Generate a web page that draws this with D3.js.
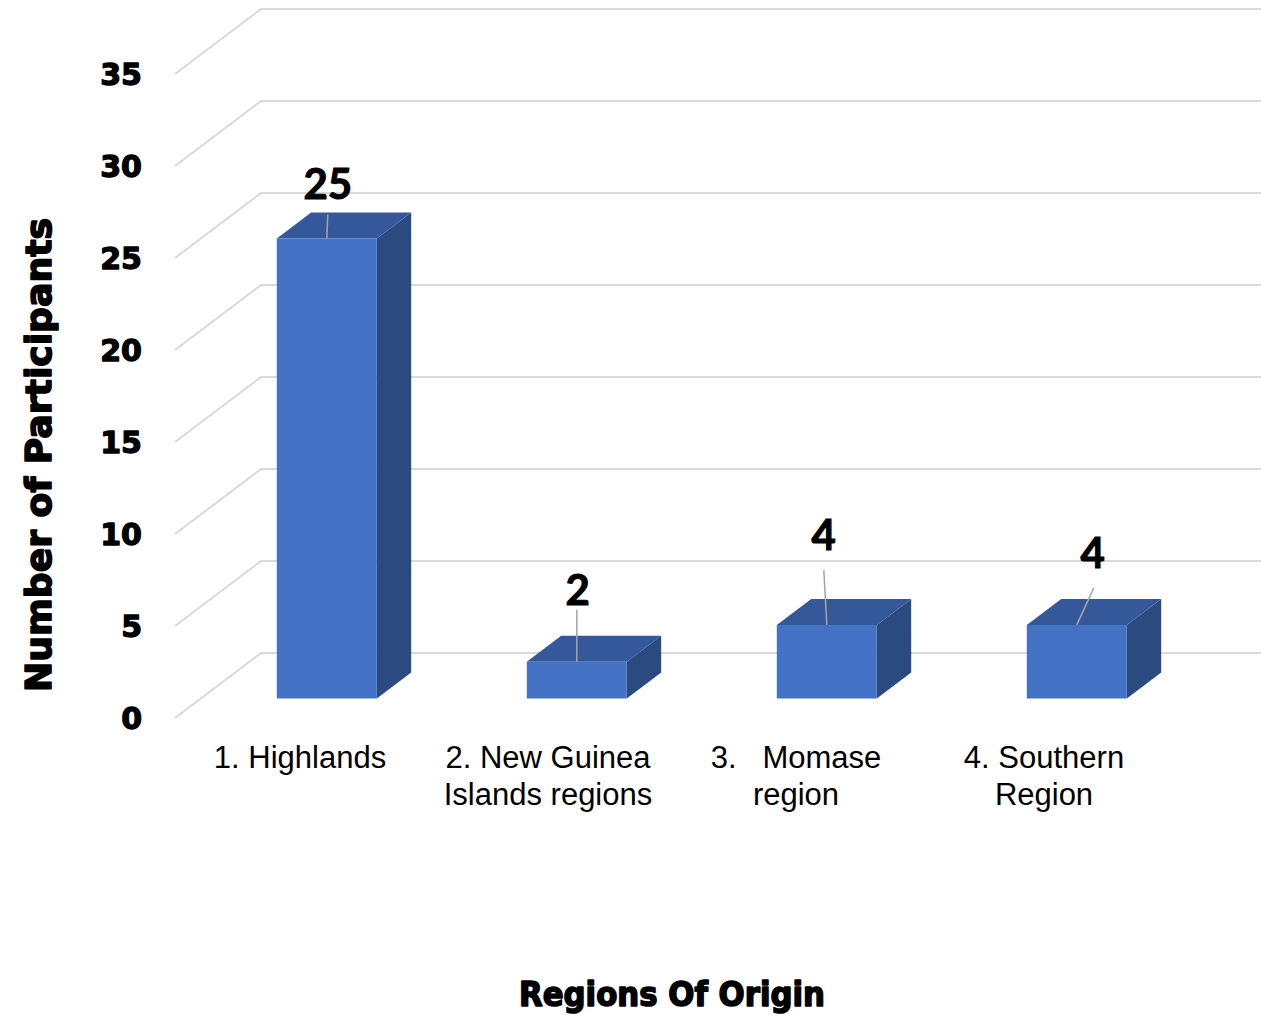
<!DOCTYPE html>
<html><head><meta charset="utf-8">
<script src="https://cdn.jsdelivr.net/npm/d3@7"></script>
<style>html,body{margin:0;padding:0;background:#fff;}svg{display:block;}</style>
</head><body>
<svg id="chart" width="1269" height="1015"></svg>
<script>
// ---- data ----
const categories = [["1. Highlands"], ["2. New Guinea", "Islands regions"], ["3.   Momase", "region"], ["4. Southern", "Region"]];
const values = [25, 2, 4, 4];
const yTicks = [0, 5, 10, 15, 20, 25, 30, 35];
const yTitle = "Number of Participants";
const xTitle = "Regions Of Origin";

// ---- layout (not data) ----
const labelLayout = [ // label offset from bar top-front-center, and leader start
  {dx: 1, dy: -40, lx: 1, ly: -24},
  {dx: 1, dy: -57, lx: 0, ly: -52},
  {dx: -3, dy: -75, lx: -3, ly: -55},
  {dx: 16, dy: -57, lx: 17, ly: -37}
];
const DX = 86, DY = -65;       // full depth offset
const z0 = 0.3, z1 = 0.7;      // bar depth range

const svg = d3.select("#chart");
const x = d3.scaleBand().domain(d3.range(categories.length)).range([176, 1176]).paddingInner(0.6).paddingOuter(0.3);
const xOuter = d3.scaleBand().domain(d3.range(categories.length)).range([175, 1175]);
const y = d3.scaleLinear().domain([0, 35]).range([718, 74]);
const P = (px, v, z) => [px + z * DX, y(v) + z * DY];

const grid = "#D9D9D9";
// left wall diagonals + back wall lines
const g = svg.append("g");
yTicks.forEach(t => {
  const a = P(175, t, 0), b = P(175, t, 1), c = P(1175, t, 1);
  g.append("path").attr("d", `M${a}L${b}L${c}`).attr("fill", "none").attr("stroke", grid).attr("stroke-width", 2);
});

const heavy = sel => sel.style("font-family", "'DejaVu Sans'").style("font-weight", "bold")
  .attr("fill", "#000").attr("stroke", "#000").attr("stroke-linejoin", "round");

// tick labels
svg.append("g").selectAll("text").data(yTicks).join("text")
  .attr("x", 142).attr("y", d => y(d)).attr("dy", "0.36em")
  .attr("text-anchor", "end")
  .call(heavy).attr("stroke-width", 1.3).style("font-size", "30px")
  .text(d => d);

// bars
const bars = svg.append("g");
values.forEach((v, i) => {
  const x0 = x(i), x1 = x(i) + x.bandwidth();
  const f = [P(x0, 0, z0), P(x1, 0, z0), P(x1, v, z0), P(x0, v, z0)];
  const top = [P(x0, v, z0), P(x1, v, z0), P(x1, v, z1), P(x0, v, z1)];
  const side = [P(x1, 0, z0), P(x1, 0, z1), P(x1, v, z1), P(x1, v, z0)];
  const poly = pts => "M" + pts.map(p => p.join(",")).join("L") + "Z";
  bars.append("path").attr("d", poly(side)).attr("fill", "#2B4A80");
  bars.append("path").attr("d", poly(top)).attr("fill", "#34589A");
  bars.append("path").attr("d", poly(f)).attr("fill", "#4472C4");
  // data labels
  const tc = P(x0 + x.bandwidth() / 2, v, z0);
  const L = labelLayout[i];
  bars.append("line").attr("x1", tc[0] + L.lx).attr("y1", tc[1] + L.ly).attr("x2", tc[0]).attr("y2", tc[1])
    .attr("stroke", "#A6A6A6").attr("stroke-width", 1.5);
  bars.append("text").attr("x", tc[0] + L.dx).attr("y", tc[1] + L.dy).attr("text-anchor", "middle")
    .style("font-family", "Lato").style("font-weight", "bold").style("font-size", "42px")
    .attr("fill", "#000").attr("stroke", "#000").attr("stroke-width", 1)
    .text(v);
});

// category labels
const cl = svg.append("g");
categories.forEach((lines, i) => {
  const cx = xOuter(i) + xOuter.bandwidth() / 2 - i * 2;
  const t = cl.append("text").attr("text-anchor", "middle")
    .style("font-family", "'Liberation Sans', Arial").style("font-size", "31px").style("white-space", "pre")
    .attr("fill", "#000");
  lines.forEach((ln, k) => t.append("tspan").attr("x", cx).attr("y", 768 + k * 37).text(ln));
});

// axis titles
svg.append("text").attr("transform", "translate(51,455) rotate(-90)").attr("text-anchor", "middle")
  .attr("textLength", 474).attr("lengthAdjust", "spacingAndGlyphs")
  .call(heavy).attr("stroke-width", 1.6).style("font-size", "35px")
  .text(yTitle);
svg.append("text").attr("x", 672).attr("y", 1006).attr("text-anchor", "middle")
  .attr("textLength", 306).attr("lengthAdjust", "spacingAndGlyphs")
  .call(heavy).attr("stroke-width", 1.6).style("font-size", "33px")
  .text(xTitle);
</script>
</body></html>
